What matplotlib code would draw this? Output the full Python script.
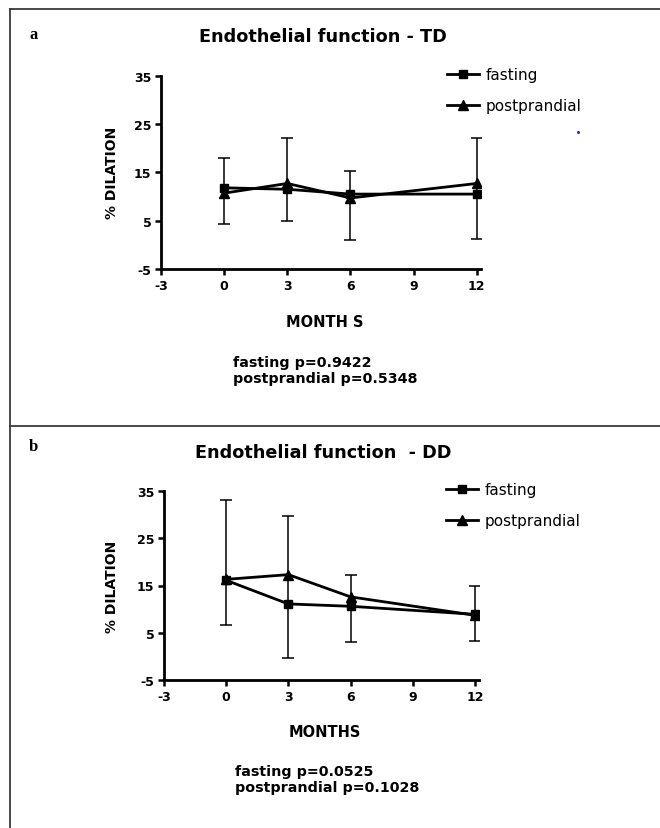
import matplotlib
matplotlib.use('Agg')
import matplotlib.pyplot as plt
from matplotlib.lines import Line2D
import numpy as np

plt.rcParams['font.family'] = ['DejaVu Sans']
plt.rcParams['axes.unicode_minus'] = False

# данные
months = [0, 3, 6, 12]
x_ticks = [-3, 0, 3, 6, 9, 12]
y_ticks = [-5, 5, 15, 25, 35]

td_fasting = [11.8, 11.5, 10.5, 10.5]
td_post = [10.7, 12.7, 9.7, 12.7]
td_err_high = [17.9, 22.1, 15.2, 22.1]
td_err_low = [4.3, 4.9, 1.1, 1.3]

dd_fasting = [16.1, 11.1, 10.6, 8.9]
dd_post = [16.3, 17.3, 12.6, 8.7]
dd_err_high = [33.2, 29.7, 17.3, 14.9]
dd_err_low = [6.7, -0.3, 3.0, 3.3]

W, H = 660, 829
fig = plt.figure(figsize=(W / 100, H / 100), dpi=100)


def fx(px):
    return px / W


def fy(py):
    return 1 - py / H


def panel(box, fasting, post, low, high, title, title_y, xlabel_y, xlabel, ptext, ptext_xy,
          letter, letter_xy, leg_xy):
    l, t, r, b = box
    ax = fig.add_axes([fx(l), fy(b), fx(r - l), (b - t) / H])
    fasting = np.array(fasting)
    ax.errorbar(months, fasting, yerr=[fasting - np.array(low), np.array(high) - fasting],
                fmt='none', ecolor='black', elinewidth=1.1, capsize=4, capthick=1.1, zorder=2)
    ax.plot(months, fasting, color='black', lw=2, marker='s', ms=6, label='fasting', zorder=3)
    ax.plot(months, post, color='black', lw=2, marker='^', ms=7, label='postprandial', zorder=3)
    ax.set_xlim(-3, 12.2)
    ax.set_ylim(-5, 35)
    ax.set_xticks(x_ticks)
    ax.set_yticks(y_ticks)
    for s in ['top', 'right']:
        ax.spines[s].set_visible(False)
    for s in ['left', 'bottom']:
        ax.spines[s].set_linewidth(2)
    ax.tick_params(width=1.8, length=4.5, labelsize=9, pad=2.5)
    for lab in ax.get_xticklabels() + ax.get_yticklabels():
        lab.set_fontweight('bold')
    ax.set_xlabel(xlabel, fontsize=10.5, fontweight='bold', va='center')
    ax.xaxis.set_label_coords((325 - l) / (r - l), -(xlabel_y - b) / (b - t))
    ax.set_ylabel('% DILATION', fontsize=10, fontweight='bold', va='center', ha='center')
    ax.yaxis.set_label_coords((111.5 - l) / (r - l), 0.5)
    ax.legend(loc='upper left', bbox_to_anchor=(fx(leg_xy[0]), fy(leg_xy[1])),
              bbox_transform=fig.transFigure, frameon=False, fontsize=11,
              handlelength=2.1, handletextpad=0.4, labelspacing=1.05, borderpad=0,
              borderaxespad=0)
    fig.text(fx(323), fy(title_y), title, fontsize=12.7, fontweight='bold',
             ha='center', va='center')
    fig.text(fx(ptext_xy[0]), fy(ptext_xy[1]), ptext, fontsize=10.3, fontweight='bold',
             ha='left', va='center', linespacing=1.2)
    fig.text(fx(letter_xy[0]), fy(letter_xy[1]), letter, fontsize=12, fontweight='bold',
             family='Liberation Serif', ha='left', va='center')
    return ax


panel((161, 76.7, 481, 270), td_fasting, td_post, td_err_low, td_err_high,
      'Endothelial function - TD', 37, 323, 'MONTH S',
      'fasting p=0.9422\npostprandial p=0.5348', (233, 371), 'a', (29, 35), (447, 68))
panel((164, 492, 479, 681), dd_fasting, dd_post, dd_err_low, dd_err_high,
      'Endothelial function  - DD', 453, 733, 'MONTHS',
      'fasting p=0.0525\npostprandial p=0.1028', (235, 780), 'b', (29, 447), (446, 483))

# рамки
bc = '#3a3a3a'
fig.add_artist(Line2D([fx(9.5), 1], [fy(10), fy(10)], color=bc, lw=1.3))
fig.add_artist(Line2D([fx(9.5), fx(9.5)], [fy(10), 0], color=bc, lw=1.3))
fig.add_artist(Line2D([fx(9.5), 1], [fy(427), fy(427)], color=bc, lw=1.3))
fig.add_artist(Line2D([fx(578)], [fy(133)], color='#3030d0', marker='.', ms=2.5, lw=0))

plt.savefig('out.png', dpi=100)
